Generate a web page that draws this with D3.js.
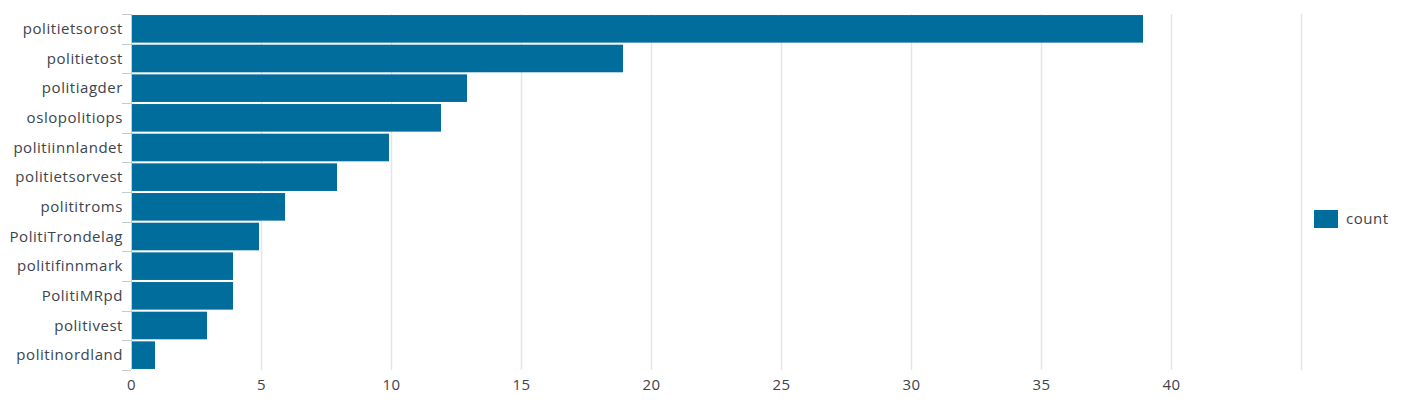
<!DOCTYPE html>
<html>
<head>
<meta charset="utf-8">
<script src="https://cdn.jsdelivr.net/npm/d3@7"></script>
<style>
  html, body { margin: 0; padding: 0; background: #fff; }
  svg text { font-family: "Open Sans", Lato, sans-serif; fill: #3c444d; letter-spacing: 0.55px; }
</style>
</head>
<body>
<div id="chart"></div>
<script>
const accounts = ['politietsorost','politietost','politiagder','oslopolitiops','politiinnlandet',
  'politietsorvest','polititroms','PolitiTrondelag','politifinnmark','PolitiMRpd','politivest','politinordland'];
const counts = [39, 19, 13, 12, 10, 8, 6, 5, 4, 4, 3, 1];
const xTicks = [0, 5, 10, 15, 20, 25, 30, 35, 40];
const gridTicks = [5, 10, 15, 20, 25, 30, 35, 40, 45];
const seriesName = 'count';

const width = 1402, height = 403;
const margin = { top: 14, right: 101, bottom: 33, left: 131 };
const innerW = width - margin.left - margin.right;
const innerH = height - margin.top - margin.bottom;
const barColor = '#006d9c';

const svg = d3.select('#chart').append('svg')
  .attr('width', width)
  .attr('height', height);

const g = svg.append('g')
  .attr('transform', `translate(${margin.left},${margin.top})`);

const x = d3.scaleLinear().domain([0, 45]).range([0, innerW]);
const y = d3.scaleBand().domain(accounts).range([0, innerH]).paddingInner(0.07).paddingOuter(0.035);

// gridlines
g.append('g').attr('class', 'grid')
  .selectAll('line')
  .data(gridTicks)
  .join('line')
  .attr('x1', d => Math.round(x(d)) + 0.5)
  .attr('x2', d => Math.round(x(d)) + 0.5)
  .attr('y1', 0)
  .attr('y2', innerH)
  .attr('stroke', '#e0e6ee')
  .attr('stroke-width', 1.5);

// bars
g.append('g').attr('class', 'bars')
  .selectAll('rect')
  .data(accounts.map((a, i) => ({ name: a, value: counts[i] })))
  .join('rect')
  .attr('x', 0)
  .attr('y', d => y(d.name))
  .attr('width', d => x(d.value) - 2)
  .attr('height', y.bandwidth())
  .attr('fill', barColor);

// y axis line + band ticks
const yAx = g.append('g').attr('class', 'y-axis');
yAx.append('line')
  .attr('x1', 0.5).attr('x2', 0.5)
  .attr('y1', 0).attr('y2', innerH)
  .attr('stroke', '#c3cbd4');
yAx.selectAll('line.tick')
  .data(d3.range(accounts.length + 1))
  .join('line')
  .attr('class', 'tick')
  .attr('x1', -9).attr('x2', 0)
  .attr('y1', i => Math.round(i * innerH / accounts.length) + 0.5)
  .attr('y2', i => Math.round(i * innerH / accounts.length) + 0.5)
  .attr('stroke', '#c3cbd4');
yAx.selectAll('text')
  .data(accounts)
  .join('text')
  .attr('x', -8)
  .attr('y', d => y(d) + y.bandwidth() / 2)
  .attr('dy', '0.35em')
  .attr('text-anchor', 'end')
  .attr('font-size', '15px')
  .text(d => d);

// x axis labels
const xAxis = d3.axisBottom(x).tickValues(xTicks).tickSize(0).tickPadding(9);
const xg = g.append('g')
  .attr('transform', `translate(0,${innerH})`)
  .call(xAxis);
xg.select('.domain').remove();
xg.selectAll('text')
  .attr('font-size', '15px')
  .attr('font-family', '"Open Sans", Lato, sans-serif')
  .attr('fill', '#3c444d');

// legend
const leg = svg.append('g').attr('transform', 'translate(1314,210)');
leg.append('rect').attr('width', 24).attr('height', 18).attr('fill', barColor);
leg.append('text').attr('x', 32).attr('y', 9).attr('dy', '0.35em')
  .attr('font-size', '15px').text(seriesName);
</script>
</body>
</html>
